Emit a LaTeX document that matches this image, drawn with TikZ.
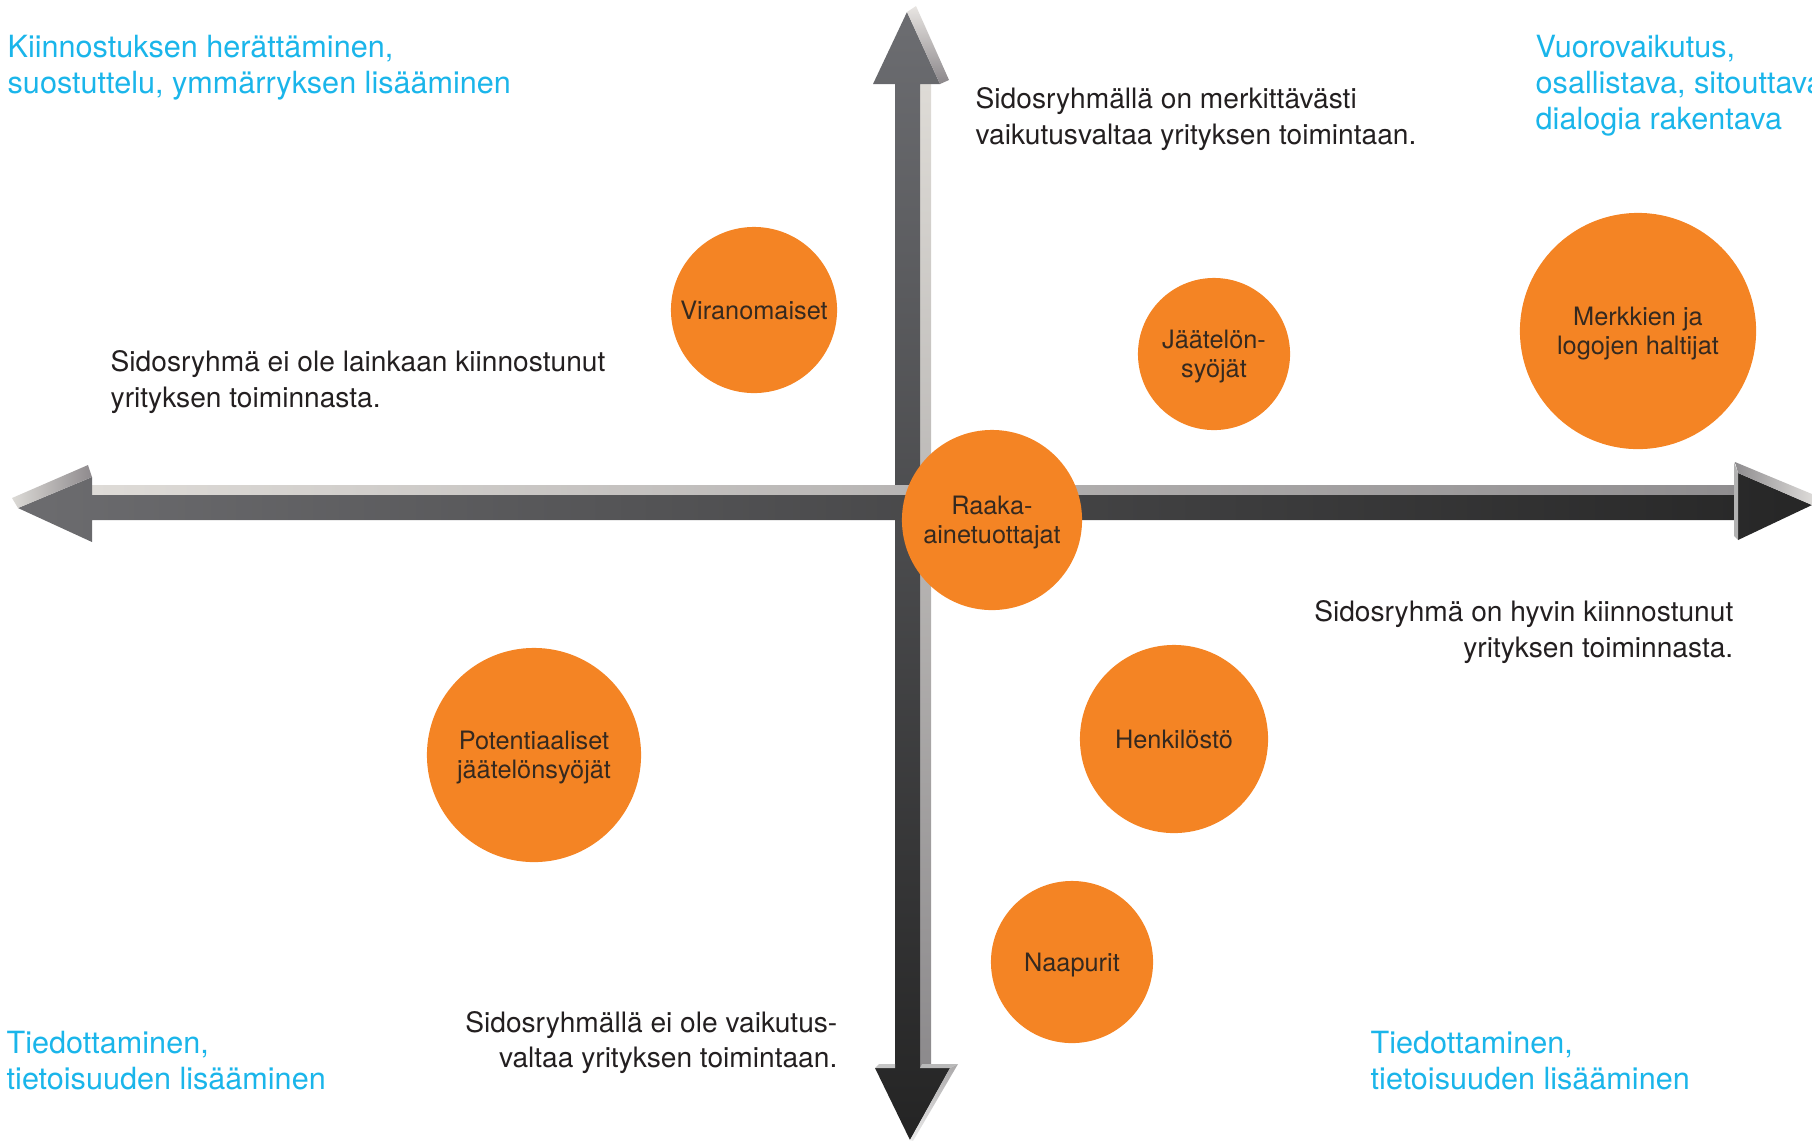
\documentclass[tikz,border=0pt]{standalone}
\usepackage{fontspec}
\setmainfont{TeX Gyre Heros}

\definecolor{oranssi}{HTML}{F48424}
\definecolor{syaani}{HTML}{1AB5EA}
\definecolor{teksti}{HTML}{231F20}
\definecolor{ympteksti}{HTML}{35291F}

\tikzset{
	sidos/.style={circle, fill=oranssi, inner sep=0pt, align=center, text depth=0pt, text=ympteksti, font=\fontsize{7.2}{8.3}\selectfont},
	kvadrantti/.style={inner sep=0pt, text=syaani, font=\fontsize{8.7}{10.2}\selectfont},
	selite/.style={inner sep=0pt, text=teksti, font=\fontsize{8}{9.96}\selectfont},
}

\begin{document}
\begin{tikzpicture}[x=0.01cm, y=-0.01cm]
			\useasboundingbox (0,0) rectangle (1812,1141);
			% 绘制纵轴
			\shade[top color={rgb,255:red,222;green,219;blue,214}, bottom color={rgb,255:red,140;green,138;blue,140}] (920,84) rectangle (931,1068);
			\shade[top color={rgb,255:red,108;green,109;blue,113}, bottom color={rgb,255:red,36;green,36;blue,36}] (907,12) -- (940,84) -- (920,84) -- (920,1068) -- (950,1068) -- (910,1140) -- (875,1068) -- (895,1068) -- (895,84) -- (873,84) -- cycle;
			\shade[top color={rgb,255:red,232;green,229;blue,226}, bottom color={rgb,255:red,139;green,135;blue,138}] (907,12) -- (916,6) -- (949,80) -- (940,84) -- cycle;
			\shade[top color={rgb,255:red,170;green,168;blue,169}, bottom color={rgb,255:red,236;green,236;blue,236}] (950,1068) -- (958,1064) -- (913,1141) -- (910,1140) -- cycle;
			\fill[gray!45] (875,1068) -- (879,1064) -- (895,1064) -- (895,1068) -- cycle;
			\fill[gray!55] (920,1068) -- (922,1064) -- (958,1064) -- (950,1068) -- cycle;
			% 绘制横轴
			\shade[left color={rgb,255:red,222;green,219;blue,215}, right color={rgb,255:red,143;green,141;blue,143}] (92,485) rectangle (1738,495);
			\shade[left color={rgb,255:red,108;green,108;blue,111}, right color={rgb,255:red,38;green,38;blue,38}] (18,508) -- (92,477) -- (92,495) -- (1738,495) -- (1738,473) -- (1812,505) -- (1738,540) -- (1738,520) -- (92,520) -- (92,542) -- cycle;
			\shade[left color={rgb,255:red,220;green,218;blue,214}, right color={rgb,255:red,142;green,138;blue,141}] (12,498) -- (88,465) -- (92,477) -- (18,508) -- cycle;
			\shade[left color={rgb,255:red,143;green,141;blue,143}, right color={rgb,255:red,220;green,218;blue,216}] (1735,462) -- (1812,494) -- (1812,505) -- (1738,473) -- cycle;
			\fill[gray!60] (1734,462) -- (1738,473) -- (1738,540) -- (1734,536) -- cycle;
			% 绘制圆
			\foreach \nimi/\x/\y/\r/\txt in {
				viranomaiset/754/310/83/Viranomaiset,
				syojat/1214/354/76/{Jäätelön-\\syöjät},
				merkit/1638/331/118/{Merkkien ja\\logojen haltijat},
				raaka/992/520/90/{Raaka-\\ainetuottajat},
				potentiaaliset/534/755/107/{Potentiaaliset\\jäätelönsyöjät},
				henkilosto/1174/739/94/Henkilöstö,
				naapurit/1072/962/81/Naapurit} {
				\node[sidos, minimum size=\r*0.02cm] (\nimi) at (\x,\y) {\txt};
			}
			% 标记象限
			\node[kvadrantti, anchor=base west, align=left] (kiinnostus) at (7,93) {Kiinnostuksen herättäminen,\\suostuttelu, ymmärryksen lisääminen};
			\node[kvadrantti, anchor=base west, align=left] (vuoro) at (1535,129) {Vuorovaikutus,\\osallistava, sitouttava\\dialogia rakentava};
			\node[kvadrantti, anchor=base west, align=left] (tiedotus1) at (6,1089) {Tiedottaminen,\\tietoisuuden lisääminen};
			\node[kvadrantti, anchor=base west, align=left] (tiedotus2) at (1370,1089) {Tiedottaminen,\\tietoisuuden lisääminen};
			% 标记坐标轴
			\node[selite, anchor=base west, align=left] (vaikutus1) at (975,144) {Sidosryhmällä on merkittävästi\\vaikutusvaltaa yrityksen toimintaan.};
			\node[selite, anchor=base west, align=left] (kiinnostus1) at (110,407) {Sidosryhmä ei ole lainkaan kiinnostunut\\yrityksen toiminnasta.};
			\node[selite, anchor=base east, align=right] (kiinnostus2) at (1734,657) {Sidosryhmä on hyvin kiinnostunut\\yrityksen toiminnasta.};
			\node[selite, anchor=base east, align=right] (vaikutus2) at (838,1067) {Sidosryhmällä ei ole vaikutus-\\valtaa yrityksen toimintaan.};
		\end{tikzpicture}
\end{document}
